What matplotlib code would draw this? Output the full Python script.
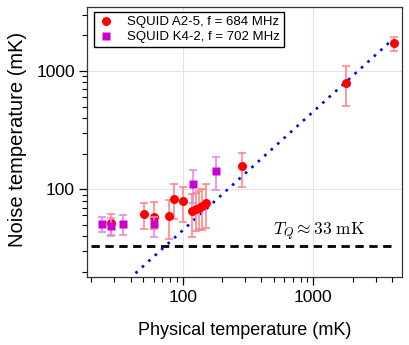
import numpy as np
import matplotlib.pyplot as plt
from matplotlib.ticker import FuncFormatter, NullFormatter

plt.rcParams['font.family'] = ['Liberation Sans', 'DejaVu Sans']
plt.rcParams['mathtext.fontset'] = 'cm'

# SQUID A2-5 (red circles)
a_T = [50.9, 28.2, 60, 78.2, 85.9, 100, 118.6, 126.5, 133, 141, 150, 284, 1780, 4140]
a_N = [61.5, 51.6, 58.4, 59.1, 83.4, 79.2, 65.9, 67.8, 70, 72.6, 77, 156, 797, 1714]
a_lo = [45.9, 41.1, 45.9, 38.3, 55.7, 53.3, 39.8, 44, 46, 45, 46.8, 105, 506, 1475]
a_hi = [77, 61.8, 78.7, 80.7, 111.6, 105, 90.7, 93, 97, 100, 111.6, 204, 1102, 1950]

# SQUID K4-2 (magenta squares)
k_T = [24.1, 28.3, 35.2, 60, 119, 180]
k_N = [50.9, 49, 51.3, 50.6, 111.6, 143]
k_lo = [43.3, 40.5, 41.1, 39.3, 76.2, 98.7]
k_hi = [58.8, 56.9, 60.7, 58.8, 145.6, 189]

# classical line and quantum limit
fit_T = [43.5, 4000]
fit_N = [19.5, 1830]
TQ = 33
tq_T = [20, 4200]

fig = plt.figure(figsize=(4.09, 3.45), dpi=100)
ax = fig.add_axes([0.2134, 0.1962, 0.7707, 0.7844])
ax.set_xscale('log')
ax.set_yscale('log')

ax.grid(True, which='major', color='#e2e2ee', lw=0.7)

ax.plot(tq_T, [TQ, TQ], color='black', lw=2, dashes=(3, 2), zorder=2)
ax.plot(fit_T, fit_N, color='#0000ff', lw=1.9, dashes=(1, 2.3), zorder=2)

a_err = [np.array(a_N) - np.array(a_lo), np.array(a_hi) - np.array(a_N)]
k_err = [np.array(k_N) - np.array(k_lo), np.array(k_hi) - np.array(k_N)]
ax.errorbar(a_T, a_N, yerr=a_err, fmt='none', ecolor='#ff8888', elinewidth=1.2,
            capsize=3, capthick=1.2, zorder=3)
ax.plot(a_T, a_N, 'o', color='red', ms=6.5, mec='none', zorder=4,
        label='SQUID A2-5, f = 684 MHz')
ax.errorbar(k_T, k_N, yerr=k_err, fmt='none', ecolor='#e58ae5', elinewidth=1.2,
            capsize=3, capthick=1.2, zorder=5)
ax.plot(k_T, k_N, 's', color='#cc00cc', ms=6, mec='none', zorder=6,
        label='SQUID K4-2, f = 702 MHz')

ax.text(1110, 43.5, r'$T_Q \approx 33\ \mathrm{mK}$', fontsize=12.5,
        ha='center', va='center')

ax.set_xlim(18.6, 4805)
ax.set_ylim(18.0, 3496)

fmt = FuncFormatter(lambda v, p: f'{v:g}')
ax.xaxis.set_major_formatter(fmt)
ax.yaxis.set_major_formatter(fmt)
ax.xaxis.set_minor_formatter(NullFormatter())
ax.yaxis.set_minor_formatter(NullFormatter())

ax.tick_params(which='major', direction='out', length=6, width=0.9, labelsize=12.5, pad=3)
ax.tick_params(which='minor', direction='out', length=3.5, width=0.8)
for s in ax.spines.values():
    s.set_linewidth(0.9)
    s.set_color('#333333')

ax.set_xlabel('Physical temperature (mK)', fontsize=13)
ax.set_ylabel('Noise temperature (mK)', fontsize=14.5)
ax.xaxis.set_label_coords(0.5, -0.165)
ax.yaxis.set_label_coords(-0.19, 0.51)

leg = ax.legend(loc='upper left', bbox_to_anchor=(0.022, 0.98), fontsize=9.5,
                frameon=True, fancybox=False, edgecolor='black', framealpha=1,
                handlelength=1.2, handletextpad=1.0, borderpad=0.3,
                labelspacing=0.2, borderaxespad=0)
leg.get_frame().set_linewidth(1.0)

fig.savefig('out.png', dpi=100)
